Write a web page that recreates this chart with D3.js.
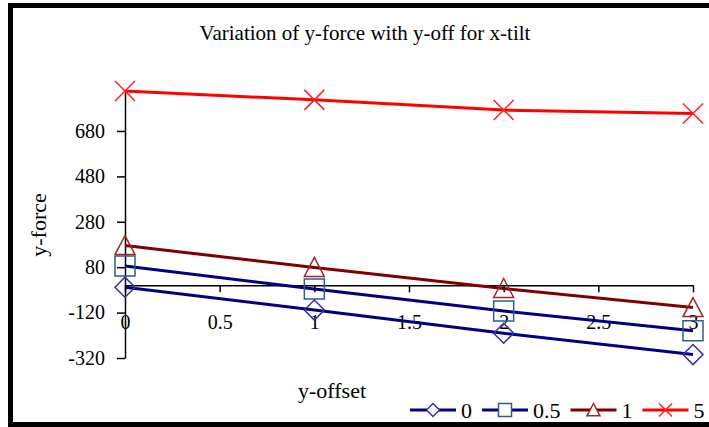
<!DOCTYPE html>
<html>
<head>
<meta charset="utf-8">
<script src="https://cdn.jsdelivr.net/npm/d3@7"></script>
<style>
  body { margin: 0; background: #fff; }
  svg { display: block; }
</style>
</head>
<body>
<div id="chart"></div>
<script>
const xValues = [0, 1, 2, 3]
const seriesNames = ["0", "0.5", "1", "5"]
const tilt0 = [-8, -109, -211, -305]
const tilt05 = [85, -16, -113, -200]
const tilt1 = [175, 79, -14, -98]
const tilt5 = [856, 817, 772, 757]
const yTicks = [-320, -120, 80, 280, 480, 680]
const xTicks = [0, 0.5, 1, 1.5, 2, 2.5, 3]

const W = 709, H = 427
const serif = "'Liberation Serif', 'Times New Roman', serif"

const series = [
  { name: seriesNames[0], values: tilt0, line: "#000080", mark: "#3333a0", shape: "diamond" },
  { name: seriesNames[1], values: tilt05, line: "#000080", mark: "#2a5f8f", shape: "square" },
  { name: seriesNames[2], values: tilt1, line: "#800000", mark: "#a02828", shape: "triangle" },
  { name: seriesNames[3], values: tilt5, line: "#ff0000", mark: "#ff2020", shape: "x" }
]

const x = d3.scaleLinear().domain([0, 3]).range([125, 693])
const y = d3.scaleLinear().domain([-320, 856]).range([358, 91])

function shapePath(shape, r) {
  if (shape === "diamond") return `M0,${-r}L${r},0L0,${r}L${-r},0Z`
  if (shape === "square") return `M${-r},${-r}H${r}V${r}H${-r}Z`
  if (shape === "triangle") return `M0,${-r}L${r},${r * 0.9}H${-r}Z`
  return `M${-r},${-r}L${r},${r}M${r},${-r}L${-r},${r}`
}

const svg = d3.select("#chart").append("svg")
  .attr("width", W)
  .attr("height", H)

// frame (right side runs past the window like the original)
svg.append("rect")
  .attr("x", 10.5).attr("y", 5.5)
  .attr("width", 730).attr("height", 419)
  .attr("fill", "#fff")
  .attr("stroke", "#000")
  .attr("stroke-width", 5)

svg.append("text")
  .attr("x", 365).attr("y", 40)
  .attr("text-anchor", "middle")
  .style("font-family", serif)
  .style("font-size", "21px")
  .text("Variation of y-force with y-off for x-tilt")

// axes
const yAxis = svg.append("g")
  .attr("transform", `translate(${x(0)},0)`)
  .call(d3.axisLeft(y).tickValues(yTicks).tickSize(8).tickSizeOuter(0).tickPadding(12)
    .tickFormat(d => String(d)))
yAxis.selectAll("text").style("font-family", serif).style("font-size", "20px").attr("fill", "#000")

const xAxis = svg.append("g")
  .attr("transform", `translate(0,${y(0)})`)
  .call(d3.axisBottom(x).tickValues(xTicks).tickSize(7).tickSizeOuter(0).tickFormat(d => String(d)))
xAxis.selectAll("text")
  .attr("y", 44).attr("dy", 0)
  .style("font-family", serif).style("font-size", "20px").attr("fill", "#000")

svg.selectAll(".domain, .tick line").attr("stroke", "#000").attr("stroke-width", 1.5)

svg.append("text")
  .attr("transform", "translate(46,225) rotate(-90)")
  .attr("text-anchor", "middle")
  .style("font-family", serif)
  .style("font-size", "22px")
  .text("y-force")

svg.append("text")
  .attr("x", 332).attr("y", 398)
  .attr("text-anchor", "middle")
  .style("font-family", serif)
  .style("font-size", "22px")
  .text("y-offset")

// lines
const line = d3.line()
  .x((d, i) => x(xValues[i]))
  .y(d => y(d))

svg.append("g")
  .attr("fill", "none")
  .attr("stroke-width", 3)
  .selectAll("path")
  .data(series)
  .join("path")
  .attr("stroke", d => d.line)
  .attr("d", d => line(d.values))

// markers
series.forEach(s => {
  svg.append("g")
    .selectAll("path")
    .data(s.values)
    .join("path")
    .attr("transform", (d, i) => `translate(${x(xValues[i])},${y(d)})`)
    .attr("d", shapePath(s.shape, 10))
    .attr("fill", "none")
    .attr("stroke", s.mark)
    .attr("stroke-width", 1.5)
})

// legend
let cx = 410
const ly = 410
series.forEach(s => {
  const g = svg.append("g")
  g.append("line")
    .attr("x1", cx).attr("x2", cx + 46)
    .attr("y1", ly).attr("y2", ly)
    .attr("stroke", s.line).attr("stroke-width", 3)
  g.append("path")
    .attr("transform", `translate(${cx + 23},${ly})`)
    .attr("d", shapePath(s.shape, 6.5))
    .attr("fill", "#fff")
    .attr("stroke", s.mark)
    .attr("stroke-width", 1.5)
  const t = g.append("text")
    .attr("x", cx + 51).attr("y", ly + 8)
    .style("font-family", serif)
    .style("font-size", "22px")
    .text(s.name)
  cx += 46 + 5 + t.node().getComputedTextLength() + 10
})
</script>
</body>
</html>
